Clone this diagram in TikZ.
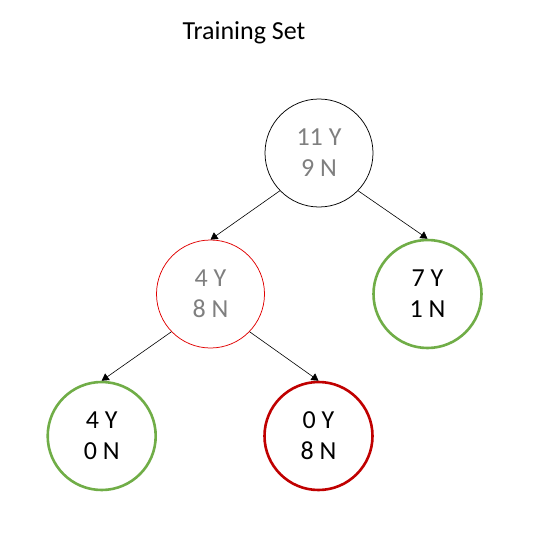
\documentclass[tikz,border=0pt]{standalone}
\usepackage{fontspec}
\setmainfont{Carlito}
\usetikzlibrary{arrows.meta}
\definecolor{leafgreen}{HTML}{70AD47}
\definecolor{leafred}{HTML}{C00000}
\definecolor{splitred}{HTML}{E00000}
\definecolor{countgray}{HTML}{7F7F7F}

\begin{document}
\begin{tikzpicture}[x=1pt, y=-1pt,
  every node/.style={circle, minimum size=108pt, inner sep=0pt, align=center, font=\fontsize{26}{31}\selectfont},
  split/.style={draw=black, line width=0.75pt, text=countgray},
  splitbad/.style={draw=splitred, line width=0.75pt, text=countgray},
  good/.style={draw=leafgreen, line width=2.6pt},
  bad/.style={draw=leafred, line width=2.6pt},
  branch/.style={-{Triangle[width=8pt,length=7pt]}, line width=0.6pt}]
\useasboundingbox (0,0) rectangle (547,538);

\node[circle=false, rectangle, minimum size=0pt, anchor=base] (title) at (244,39) {Training Set};

\node[split] (root) at (319,153) {11 Y\\9 N};
\node[splitbad] (left) at (210.5,294) {4 Y\\8 N};
\node[good] (right) at (427.5,294) {7 Y\\1 N};
\node[good] (leftleft) at (101.7,436) {4 Y\\0 N};
\node[bad] (leftright) at (318.5,436) {0 Y\\8 N};

\draw[branch] (root.224) -- (left.north);
\draw[branch] (root.316) -- (right.north);
\draw[branch] (left.224) -- (leftleft.north);
\draw[branch] (left.316) -- (leftright.north);
\end{tikzpicture}
\end{document}
